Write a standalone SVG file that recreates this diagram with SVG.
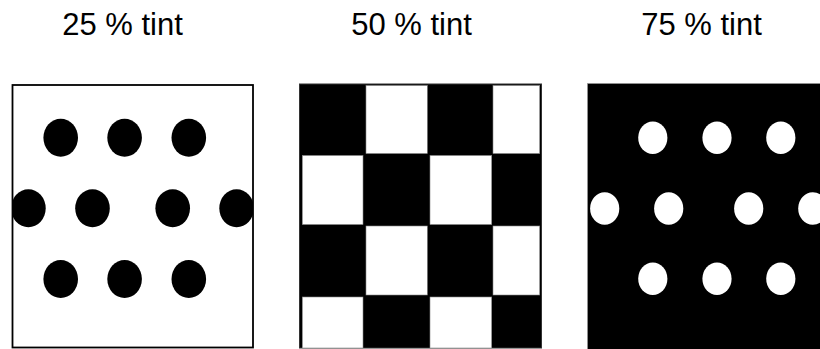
<svg xmlns="http://www.w3.org/2000/svg" width="820" height="349" viewBox="0 0 820 349">
<style>
.lbl{font-family:"Liberation Sans",Arial,sans-serif;font-size:31px;fill:#000;text-anchor:middle}
.bd{fill:#000}
.wd{fill:#fff}
.wc{fill:#fff;stroke:#888;stroke-width:0.6}
</style>
<defs>
<clipPath id="c1"><rect x="13" y="85" width="240" height="264"/></clipPath>
<clipPath id="c3"><rect x="587.5" y="83.5" width="233" height="266"/></clipPath>
</defs>
<g id="labels">
<text class="lbl" x="122.5" y="35">25 % tint</text>
<text class="lbl" x="411.5" y="35">50 % tint</text>
<text class="lbl" x="701.5" y="35">75 % tint</text>
</g>
<g id="tint25">
<rect x="12.5" y="85" width="240.5" height="262.5" fill="#fff" stroke="#000" stroke-width="1.8"/>
<g clip-path="url(#c1)">
<ellipse class="bd" cx="60.7" cy="137.7" rx="17.3" ry="19"/>
<ellipse class="bd" cx="124.6" cy="137.7" rx="17.3" ry="19"/>
<ellipse class="bd" cx="188.8" cy="137.7" rx="17.3" ry="19"/>
<ellipse class="bd" cx="28.4" cy="208.3" rx="17.3" ry="19"/>
<ellipse class="bd" cx="92.5" cy="208.3" rx="17.3" ry="19"/>
<ellipse class="bd" cx="172.7" cy="208.3" rx="17.3" ry="19"/>
<ellipse class="bd" cx="236.6" cy="208.3" rx="17.3" ry="19"/>
<ellipse class="bd" cx="60.7" cy="279" rx="17.3" ry="19"/>
<ellipse class="bd" cx="124.6" cy="279" rx="17.3" ry="19"/>
<ellipse class="bd" cx="188.8" cy="279" rx="17.3" ry="19"/>
</g>
</g>
<g id="tint50">
<rect x="299.5" y="84" width="242" height="264" fill="#000" stroke="#333" stroke-width="1"/>
<rect class="wc" x="366" y="85.5" width="61.3" height="68"/>
<rect class="wc" x="493" y="85.5" width="46.7" height="68"/>
<rect class="wc" x="302.3" y="155.5" width="60.7" height="69"/>
<rect class="wc" x="430" y="155.5" width="61.7" height="69"/>
<rect class="wc" x="366" y="226" width="61.3" height="69"/>
<rect class="wc" x="493" y="226" width="46.7" height="69"/>
<rect class="wc" x="302.3" y="297" width="60.7" height="51"/>
<rect class="wc" x="430" y="297" width="61.7" height="51"/>
</g>
<g id="tint75">
<rect x="587.5" y="83.5" width="233" height="266" fill="#000" stroke="#999" stroke-width="0.6"/>
<g clip-path="url(#c3)">
<ellipse class="wd" cx="652.8" cy="137.8" rx="14.6" ry="16.2"/>
<ellipse class="wd" cx="717" cy="137.8" rx="14.6" ry="16.2"/>
<ellipse class="wd" cx="780.8" cy="137.8" rx="14.6" ry="16.2"/>
<ellipse class="wd" cx="604.7" cy="208.5" rx="14.6" ry="16.2"/>
<ellipse class="wd" cx="668.7" cy="208.5" rx="14.6" ry="16.2"/>
<ellipse class="wd" cx="748.7" cy="208.5" rx="14.6" ry="16.2"/>
<ellipse class="wd" cx="812.8" cy="208.5" rx="14.6" ry="16.2"/>
<ellipse class="wd" cx="652.8" cy="278.8" rx="14.6" ry="16.2"/>
<ellipse class="wd" cx="717" cy="278.8" rx="14.6" ry="16.2"/>
<ellipse class="wd" cx="780.8" cy="278.8" rx="14.6" ry="16.2"/>
</g>
</g>
</svg>
